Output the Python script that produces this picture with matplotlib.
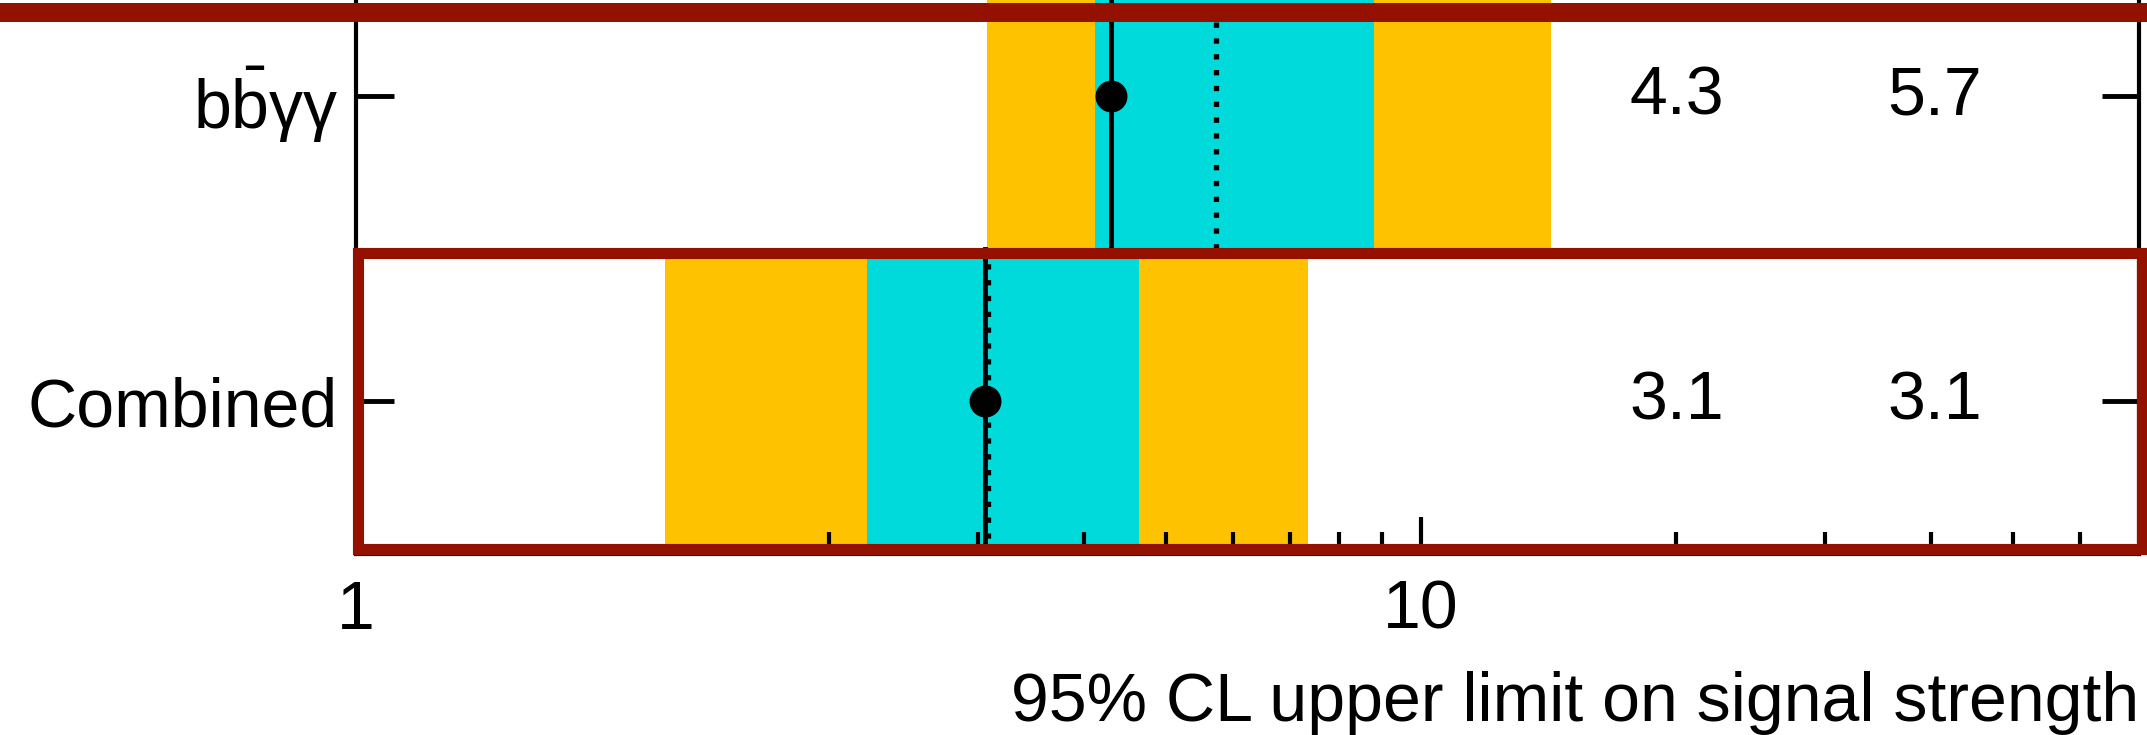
import matplotlib.pyplot as plt
from matplotlib.patches import Rectangle
from matplotlib.ticker import FixedLocator, NullFormatter

plt.rcParams['font.family'] = ['Liberation Sans', 'DejaVu Sans']
plt.rcParams['mathtext.fontset'] = 'custom'
plt.rcParams['mathtext.rm'] = 'Liberation Sans'

# Datos (de arriba hacia abajo)
canales = [r'$\mathrm{b\bar{b}γγ}$', 'Combined']
filas = [1, 0]
observado = [4.3, 3.06]
esperado = [5.73, 3.08]
menos2 = [3.07, 1.28]
menos1 = [4.12, 2.22]
mas1 = [8.80, 4.64]
mas2 = [14.24, 7.36]

amarillo = '#ffc200'
cian = '#00dadb'
rojo = '#941100'

fig = plt.figure(figsize=(21.47, 7.35), dpi=100)
ax = fig.add_axes([0.1658, 0.2463, 0.8305, 0.8306])
ax.set_xscale('log')

for i in range(len(canales)):
  y = filas[i]
  ax.barh(y, mas2[i] - menos2[i], left=menos2[i], height=1.0, color=amarillo, lw=0)
  ax.barh(y, mas1[i] - menos1[i], left=menos1[i], height=1.0, color=cian, lw=0)
  ax.plot([observado[i], observado[i]], [y - 0.5, y + 0.5], color='black', lw=3.5)
  ax.plot([esperado[i], esperado[i]], [y - 0.5, y + 0.5], color='black', lw=3.8,
          linestyle=(0, (1, 2)), dash_capstyle='butt')
  ax.plot(observado[i], y, 'o', color='black', ms=22)
  # valores numericos
  ax.text(0.714, y, f"{observado[i]:.1f}", transform=ax.get_yaxis_transform(),
          ha='left', va='center', fontsize=49)
  ax.text(0.859, y, f"{esperado[i]:.1f}", transform=ax.get_yaxis_transform(),
          ha='left', va='center', fontsize=49)

x_min, x_max = 0.553, 70.4
ax.set_xlim(x_min, x_max)
ax.set_ylim(-0.5, 1.5)

# ROOT pone la etiqueta "1" en el borde izquierdo
ax.set_xticks([x_min, 10], ['1', '10'])
ax.xaxis.set_minor_locator(FixedLocator([2, 3, 4, 5, 6, 7, 8, 9, 20, 30, 40, 50, 60]))
ax.xaxis.set_minor_formatter(NullFormatter())
ax.set_yticks(filas, canales)

ax.tick_params(axis='x', which='major', direction='in', length=27, width=3,
               pad=18, labelsize=49, top=False)
ax.tick_params(axis='x', which='minor', direction='in', length=16, width=3, top=False)
ax.tick_params(axis='y', direction='in', length=27, width=3.5, pad=13,
               labelsize=49, left=True, right=True)
for s in ax.spines.values():
  s.set_linewidth(3)

ax.set_xlabel('95% CL upper limit on signal strength', fontsize=49, loc='right', labelpad=20)

# Marcas rojas
fig.add_artist(Rectangle((0, 713 / 735), 1, 19 / 735, transform=fig.transFigure,
                         color=rojo, lw=0))
fig.add_artist(Rectangle((358 / 2147, 186 / 735), 1784 / 2147, 296 / 735,
                         transform=fig.transFigure, fill=False, ec=rojo, lw=8))

fig.savefig('out.png', dpi=100)
